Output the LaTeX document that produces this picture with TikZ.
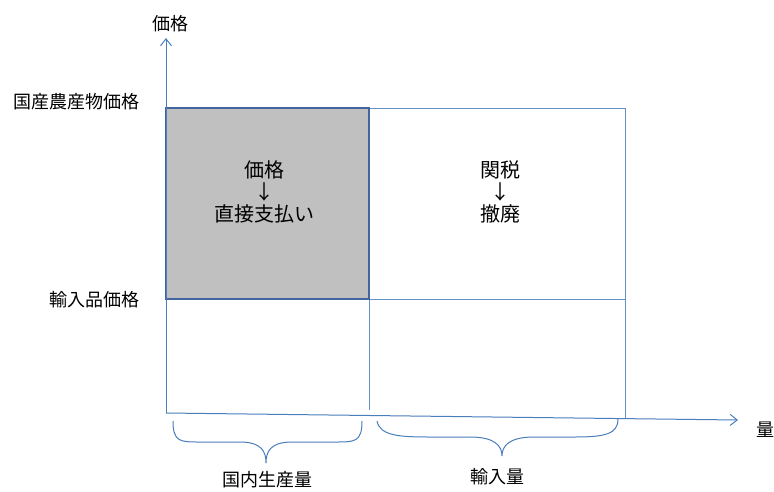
\documentclass[tikz,border=0pt]{standalone}
\usepackage{fontspec}
\setmainfont{Noto Sans CJK JP}
\usetikzlibrary{arrows.meta}
\definecolor{axisblue}{HTML}{4A7EBB}
\definecolor{boxblue}{HTML}{41659C}
\definecolor{boxgray}{HTML}{C0C0C0}
\tikzset{
  axisline/.style={draw=axisblue, line width=1pt},
  gridline/.style={draw=axisblue!85, line width=0.9pt},
  axisarrow/.style={axisline, -{Straight Barb[length=7pt,width=11pt]}},
  lbl/.style={font=\fontsize{18}{20}\selectfont, text=black, inner sep=0pt},
  inner/.style={font=\fontsize{20}{23}\selectfont, text=black, align=center, inner sep=0pt},
  bracecurve/.style={draw=axisblue, line width=1pt}
}
\begin{document}
\begin{tikzpicture}[x=1pt,y=-1pt]
\useasboundingbox (0,0) rectangle (774,491);
% key coordinates
\coordinate (O) at (166,413);
\coordinate (ytop) at (166,38);
\coordinate (xend) at (738,420);
\coordinate (TL) at (166,108);
\coordinate (TM) at (369,108);
\coordinate (TR) at (625,108);
\coordinate (ML) at (166,299);
\coordinate (MM) at (369,299);
\coordinate (MR) at (625,299);
\coordinate (BM) at (369,410);
\coordinate (BR) at (625,419);
% grid lines
\draw[gridline] (TM) -- (TR) -- (BR);
\draw[gridline] (MM) -- (MR);
\draw[gridline] (MM) -- (BM);
% gray box
\fill[boxgray] (TL) rectangle (MM);
\draw[draw=boxblue, line width=2pt] (TL) rectangle (MM);
% axes
\draw[axisarrow] (O) -- (ytop);
\draw[axisarrow] (O) -- (xend);
% axis labels
\node[lbl] (ylabel) at (170,24) {価格};
\node[lbl] (xlabel) at (765,430) {量};
\node[lbl, anchor=east] (pdom) at (140,102) {国産農産物価格};
\node[lbl, anchor=east] (pimp) at (140,300) {輸入品価格};
% inner texts
\node[inner] (left) at (264,192) {価格\\[-1pt]↓\\[-1pt]直接支払い};
\node[inner] (right) at (500,192) {関税\\[-1pt]↓\\[-1pt]撤廃};
% braces
\coordinate (b1a) at (173,421);
\coordinate (b1t) at (266,463);
\coordinate (b1b) at (362,421);
\draw[bracecurve] (b1a) .. controls (173,442) and (180,442) .. (200,442)
  -- (240,442) .. controls (262,442) and (266,452) .. (b1t)
  .. controls (266,452) and (270,442) .. (292,442)
  -- (335,442) .. controls (355,442) and (362,442) .. (b1b);
\coordinate (b2a) at (377,421);
\coordinate (b2t) at (502,456);
\coordinate (b2b) at (618,419);
\draw[bracecurve] (b2a) .. controls (380,436) and (400,437) .. (430,437)
  -- (470,437) .. controls (495,437) and (502,446) .. (b2t)
  .. controls (502,446) and (509,437) .. (534,437)
  -- (575,437) .. controls (605,437) and (618,434) .. (b2b);
% bottom labels
\node[lbl] (qdom) at (267,480) {国内生産量};
\node[lbl] (qimp) at (497,477) {輸入量};
\end{tikzpicture}
\end{document}
